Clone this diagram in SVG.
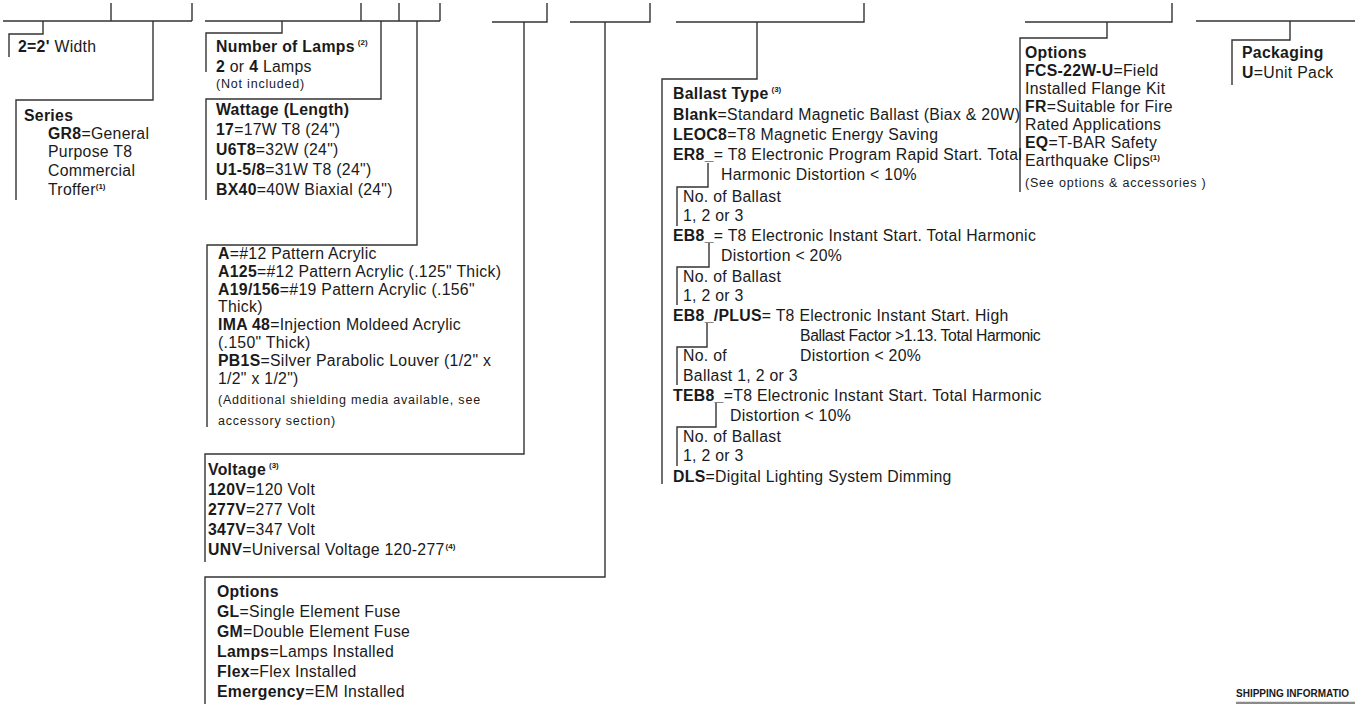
<svg xmlns="http://www.w3.org/2000/svg" width="1355" height="704" viewBox="0 0 1355 704">
<style>
text{font-family:"Liberation Sans",Arial,Helvetica,sans-serif;font-size:15.8px;letter-spacing:0.3px;fill:#1a1a1a}
.b{font-weight:bold}
.s{font-size:12.5px;letter-spacing:0.8px}
.sup{font-size:8px;font-weight:bold;letter-spacing:0}
.ln{fill:none;stroke:#333333;stroke-width:1.4}
.ship{font-size:10px;font-weight:bold;letter-spacing:0}
.tight{letter-spacing:-0.4px}
</style>
<rect width="1355" height="704" fill="#ffffff"/>
<g id="connectors" class="ln">
<path d="M3,21 H192 M111,3 V21 M192,3 V21"/>
<path d="M43,21 V34 H9 V57"/>
<path d="M153,21 V100 H16 V200"/>
<path d="M205,21 H440 M361,3 V21 M399,3 V21 M440,3 V21"/>
<path d="M282,21 V33 H206 V72"/>
<path d="M381,21 V99 H206 V200"/>
<path d="M417,21 V245 H207 V427"/>
<path d="M492,22 H547 V3"/>
<path d="M524,22 V454 H205 V562"/>
<path d="M570,22 H650 V3"/>
<path d="M605,22 V577 H205 V704"/>
<path d="M676,22 H864 V3"/>
<path d="M757,22 V79 H662 V484"/>
<path d="M708,163 V187 H677 V226"/>
<path d="M709,243 V267 H677 V305"/>
<path d="M707,323 V347 H677 V385"/>
<path d="M716,403 V427 H677 V466"/>
<path d="M1025,22 H1172 V3"/>
<path d="M1107,22 V38 H1020 V192"/>
<path d="M1196,21 H1355"/>
<path d="M1290,21 V40 H1232 V85"/>
</g>
<g id="node-width">
<text x="18" y="52"><tspan class="b">2=2'</tspan> Width</text>
</g>
<g id="node-series">
<text x="24" y="121" class="b">Series</text>
<text x="48" y="139"><tspan class="b">GR8</tspan>=General</text>
<text x="48" y="157">Purpose T8</text>
<text x="48" y="176">Commercial</text>
<text x="48" y="195">Troffer<tspan class="sup" dy="-6">(1)</tspan></text>
</g>
<g id="node-lamps">
<text x="216" y="52"><tspan class="b">Number of Lamps</tspan><tspan class="sup" dy="-7" dx="3">(2)</tspan></text>
<text x="216" y="72"><tspan class="b">2</tspan> or <tspan class="b">4</tspan> Lamps</text>
<text x="216" y="88" class="s">(Not included)</text>
</g>
<g id="node-wattage">
<text x="216" y="115" class="b">Wattage (Length)</text>
<text x="216" y="135"><tspan class="b">17</tspan>=17W T8 (24")</text>
<text x="216" y="155"><tspan class="b">U6T8</tspan>=32W (24")</text>
<text x="216" y="175"><tspan class="b">U1-5/8</tspan>=31W T8 (24")</text>
<text x="216" y="195"><tspan class="b">BX40</tspan>=40W Biaxial (24")</text>
</g>
<g id="node-shielding">
<text x="218" y="259"><tspan class="b">A</tspan>=#12 Pattern Acrylic</text>
<text x="218" y="277"><tspan class="b">A125</tspan>=#12 Pattern Acrylic (.125" Thick)</text>
<text x="218" y="295"><tspan class="b">A19/156</tspan>=#19 Pattern Acrylic (.156"</text>
<text x="218" y="312">Thick)</text>
<text x="218" y="330"><tspan class="b">IMA 48</tspan>=Injection Moldeed Acrylic</text>
<text x="218" y="348">(.150" Thick)</text>
<text x="218" y="366"><tspan class="b">PB1S</tspan>=Silver Parabolic Louver (1/2" x</text>
<text x="218" y="384">1/2" x 1/2")</text>
<text x="218" y="404" class="s">(Additional shielding media available, see</text>
<text x="218" y="425" class="s">accessory section)</text>
</g>
<g id="node-voltage">
<text x="208" y="475"><tspan class="b">Voltage</tspan><tspan class="sup" dy="-7" dx="3">(3)</tspan></text>
<text x="208" y="495"><tspan class="b">120V</tspan>=120 Volt</text>
<text x="208" y="515"><tspan class="b">277V</tspan>=277 Volt</text>
<text x="208" y="535"><tspan class="b">347V</tspan>=347 Volt</text>
<text x="208" y="555"><tspan class="b">UNV</tspan>=Universal Voltage 120-277<tspan class="sup" dy="-6" dx="1">(4)</tspan></text>
</g>
<g id="node-options">
<text x="217" y="597" class="b">Options</text>
<text x="217" y="617"><tspan class="b">GL</tspan>=Single Element Fuse</text>
<text x="217" y="637"><tspan class="b">GM</tspan>=Double Element Fuse</text>
<text x="217" y="657"><tspan class="b">Lamps</tspan>=Lamps Installed</text>
<text x="217" y="677"><tspan class="b">Flex</tspan>=Flex Installed</text>
<text x="217" y="697"><tspan class="b">Emergency</tspan>=EM Installed</text>
</g>
<g id="node-ballast">
<text x="673" y="99"><tspan class="b">Ballast Type</tspan><tspan class="sup" dy="-7" dx="3">(3)</tspan></text>
<text x="673" y="120"><tspan class="b">Blank</tspan>=Standard Magnetic Ballast (Biax &amp; 20W)</text>
<text x="673" y="140"><tspan class="b">LEOC8</tspan>=T8 Magnetic Energy Saving</text>
<text x="673" y="160"><tspan class="b">ER8_</tspan>= T8 Electronic Program Rapid Start. Total</text>
<text x="721" y="180">Harmonic Distortion &lt; 10%</text>
<text x="683" y="202">No. of Ballast</text>
<text x="683" y="221">1, 2 or 3</text>
<text x="673" y="241"><tspan class="b">EB8_</tspan>= T8 Electronic Instant Start. Total Harmonic</text>
<text x="721" y="261">Distortion &lt; 20%</text>
<text x="683" y="282">No. of Ballast</text>
<text x="683" y="301">1, 2 or 3</text>
<text x="673" y="321"><tspan class="b">EB8_/PLUS</tspan>= T8 Electronic Instant Start. High</text>
<text x="800" y="341" class="tight">Ballast Factor &gt;1.13. Total Harmonic</text>
<text x="800" y="361">Distortion &lt; 20%</text>
<text x="683" y="361">No. of</text>
<text x="683" y="381">Ballast 1, 2 or 3</text>
<text x="673" y="401"><tspan class="b">TEB8_</tspan>=T8 Electronic Instant Start. Total Harmonic</text>
<text x="730" y="421">Distortion &lt; 10%</text>
<text x="683" y="442">No. of Ballast</text>
<text x="683" y="461">1, 2 or 3</text>
<text x="673" y="482"><tspan class="b">DLS</tspan>=Digital Lighting System Dimming</text>
</g>
<g id="node-options2">
<text x="1025" y="58" class="b">Options</text>
<text x="1025" y="76"><tspan class="b">FCS-22W-U</tspan>=Field</text>
<text x="1025" y="94">Installed Flange Kit</text>
<text x="1025" y="112"><tspan class="b">FR</tspan>=Suitable for Fire</text>
<text x="1025" y="130">Rated Applications</text>
<text x="1025" y="148"><tspan class="b">EQ</tspan>=T-BAR Safety</text>
<text x="1025" y="166">Earthquake Clips<tspan class="sup" dy="-6">(1)</tspan></text>
<text x="1025" y="187" class="s">(See options &amp; accessories )</text>
</g>
<g id="node-packaging">
<text x="1242" y="58" class="b">Packaging</text>
<text x="1242" y="78"><tspan class="b">U</tspan>=Unit Pack</text>
</g>
<g id="shipping">
<text x="1236" y="697" class="ship">SHIPPING INFORMATIO</text>
<line x1="1236" y1="703" x2="1355" y2="703" stroke="#8a8a8a" stroke-width="2.5"/>
</g>
</svg>
